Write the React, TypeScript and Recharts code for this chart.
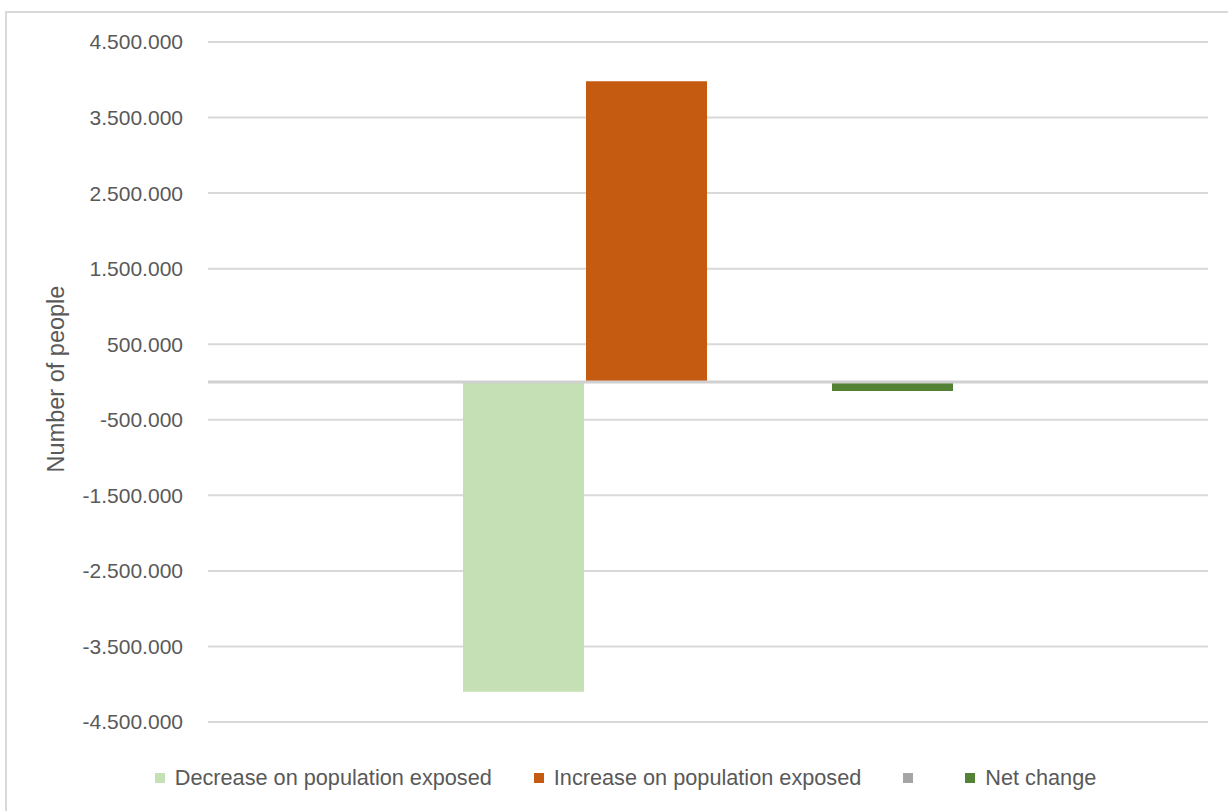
import React from "react";
import {
  BarChart,
  Bar,
  XAxis,
  YAxis,
  CartesianGrid,
  ReferenceLine,
  Legend,
  Label,
} from "recharts";

// one category, four series (the grey one has no value)
const categories = [""];
const decreaseValues = [-4100000];
const increaseValues = [3980000];
const greyValues = [0];
const netChangeValues = [-120000];

const yTicks = [
  4500000, 3500000, 2500000, 1500000, 500000, -500000, -1500000, -2500000,
  -3500000, -4500000,
];

const seriesNames = [
  "Decrease on population exposed",
  "Increase on population exposed",
  "",
  "Net change",
];
const seriesColors = ["#c5e0b4", "#c55a11", "#a5a5a5", "#548235"];

const data = categories.map((c, i) => ({
  category: c,
  decrease: decreaseValues[i],
  increase: increaseValues[i],
  grey: greyValues[i],
  net: netChangeValues[i],
}));

const FONT = "'Liberation Sans', Arial, sans-serif";
const TEXT = "#595959";

const fmt = (v: number) =>
  (v < 0 ? "-" : "") + Math.abs(v).toString().replace(/\B(?=(\d{3})+(?!\d))/g, ".");

function LegendContent() {
  return (
    <div
      style={{
        display: "flex",
        justifyContent: "center",
        alignItems: "center",
        fontFamily: FONT,
        fontSize: 21.7,
        color: TEXT,
        gap: 42,
      }}
    >
      {seriesNames.map((name, i) => (
        <div key={i} style={{ display: "flex", alignItems: "center" }}>
          <span
            style={{
              width: 10,
              height: 10,
              background: seriesColors[i],
              marginRight: 10,
              display: "inline-block",
            }}
          />
          <span style={{ whiteSpace: "nowrap" }}>{name}</span>
        </div>
      ))}
    </div>
  );
}

export default function App() {
  return (
    <div style={{ position: "absolute", left: 0, top: 0, width: 1228, height: 811, overflow: "hidden", background: "#fff" }}>
      <div
        style={{
          position: "absolute",
          left: 5,
          top: 11,
          width: 1250,
          height: 830,
          border: "2px solid #d9d9d9",
        }}
      />
      <div style={{ position: "absolute", left: 0, top: 0 }}>
        <BarChart
          width={1228}
          height={811}
          data={data}
          margin={{ top: 42, right: 20, bottom: 89, left: 0 }}
          barCategoryGap="25.5%"
          barGap={2}
        >
          <CartesianGrid vertical={false} stroke="#d9d9d9" strokeWidth={2} />
          <XAxis dataKey="category" hide />
          <YAxis
            width={208}
            domain={[-4500000, 4500000]}
            ticks={yTicks}
            interval={0}
            tickFormatter={fmt}
            axisLine={false}
            tickLine={false}
            tickSize={0}
            tickMargin={25}
            tick={{ fill: TEXT, fontSize: 21, fontFamily: FONT }}
          >
            <Label
              content={({ viewBox }: any) => {
                const cy = viewBox.y + viewBox.height / 2 - 3;
                const cx = 56;
                return (
                  <text
                    x={cx}
                    y={cy}
                    transform={`rotate(-90, ${cx}, ${cy})`}
                    textAnchor="middle"
                    dominantBaseline="central"
                    fill={TEXT}
                    fontSize={23.5}
                    fontFamily={FONT}
                  >
                    Number of people
                  </text>
                );
              }}
            />
          </YAxis>
          <ReferenceLine y={0} stroke="#d0d0d0" strokeWidth={3} />
          <Bar dataKey="decrease" name={seriesNames[0]} fill={seriesColors[0]} isAnimationActive={false} />
          <Bar dataKey="increase" name={seriesNames[1]} fill={seriesColors[1]} isAnimationActive={false} />
          <Bar dataKey="grey" name={seriesNames[2]} fill={seriesColors[2]} isAnimationActive={false} />
          <Bar dataKey="net" name={seriesNames[3]} fill={seriesColors[3]} isAnimationActive={false} />
          <Legend
            layout="horizontal"
            verticalAlign="middle"
            align="center"
            content={<LegendContent />}
            wrapperStyle={{ top: 765, left: 0, width: 1251, height: 24 }}
          />
        </BarChart>
      </div>
    </div>
  );
}
